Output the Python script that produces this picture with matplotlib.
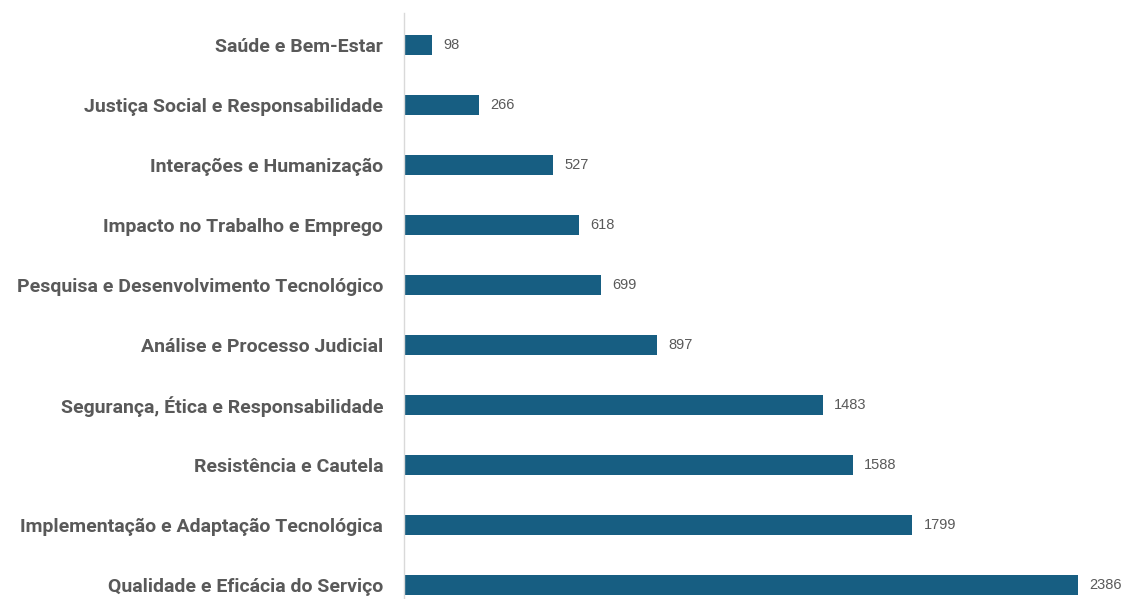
import matplotlib
matplotlib.use("Agg")
import matplotlib.pyplot as plt

categories = [
    "Saúde e Bem-Estar",
    "Justiça Social e Responsabilidade",
    "Interações e Humanização",
    "Impacto no Trabalho e Emprego",
    "Pesquisa e Desenvolvimento Tecnológico",
    "Análise e Processo Judicial",
    "Segurança, Ética e Responsabilidade",
    "Resistência e Cautela",
    "Implementação e Adaptação Tecnológica",
    "Qualidade e Eficácia do Serviço",
]
values = [98, 266, 527, 618, 699, 897, 1483, 1588, 1799, 2386]

bar_color = "#175E82"
text_color = "#595959"

fig = plt.figure(figsize=(11.26, 5.99), dpi=100)
ax = fig.add_axes([404 / 1126, 0.0, 1 - 404 / 1126, (599 - 13) / 599])

pos = list(range(len(categories)))
bars = ax.barh(pos, values, height=0.34, color=bar_color)

ax.set_xlim(0, 2556)
ax.set_ylim(len(categories) - 1 + 0.233, -0.533)

for b, v in zip(bars, values):
    ax.text(b.get_width() + 40, b.get_y() + b.get_height() / 2, str(v),
            va="center", ha="left", fontsize=10.5, color=text_color,
            family="Liberation Sans")

ax.set_yticks(pos)
ax.set_yticklabels(categories, fontsize=14, fontweight="bold",
                   color=text_color, family="Roboto")
ax.tick_params(axis="y", length=0, pad=15)
ax.set_xticks([])

for side in ["top", "right", "bottom"]:
    ax.spines[side].set_visible(False)
ax.spines["left"].set_color("#d9d9d9")
ax.spines["left"].set_linewidth(1.0)

fig.savefig("out.png", dpi=100)
